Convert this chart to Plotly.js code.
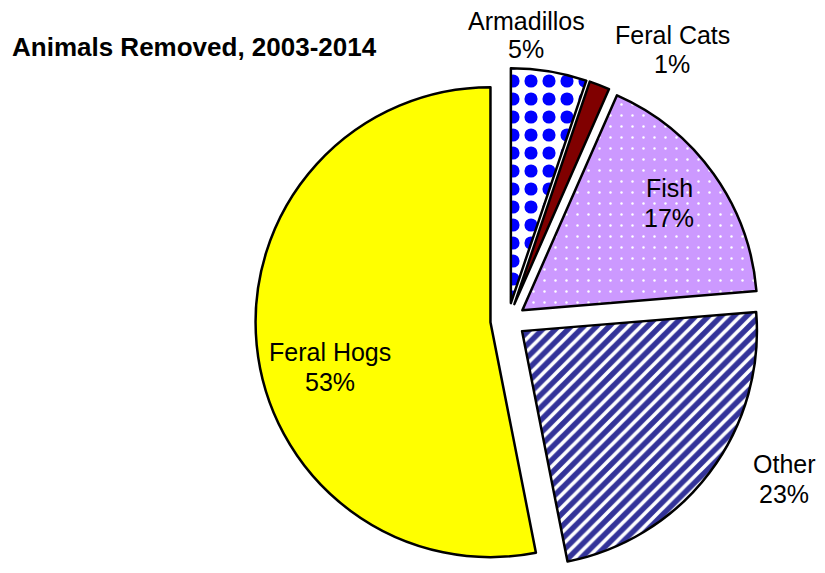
<!DOCTYPE html>
<html>
<head>
<meta charset="utf-8">
<script src="https://cdn.plot.ly/plotly-3.0.1.min.js"></script>
<style>html,body{margin:0;padding:0;background:#fff;}#chart{width:825px;height:573px;}</style>
</head>
<body>
<div id="chart"></div>
<script>
const categories = ["Armadillos", "Feral Cats", "Fish", "Other", "Feral Hogs"];
const values = [5.2, 1.4, 17.1, 23.2, 53.1];
const sliceColors = ["#FFFFFF", "#800000", "#CC99FF", "#333399", "#FFFF00"];
const chartTitle = "Animals Removed, 2003-2014";

// label centres in window pixels: [x, name line y, percent line y]
const labelPx = [[526, 21, 49], [672, 35, 64], [669, 188, 218], [784, 464, 494], [330, 352, 382]];

const M = {l: 254, r: 63, t: 68, b: 0};
const W = 825, H = 573;
const pw = W - M.l - M.r, ph = H - M.t - M.b;

const total = values.reduce((a, b) => a + b, 0);
const labelFont = {family: "Liberation Sans, Arial, sans-serif", size: 25, color: "#000000"};
const annotations = [];
categories.forEach((c, i) => {
  const lines = [c, Math.round(values[i] / total * 100) + "%"];
  lines.forEach((t, k) => {
    annotations.push({
      text: t,
      xref: "paper", yref: "paper",
      x: (labelPx[i][0] - M.l) / pw,
      y: 1 - (labelPx[i][1 + k] - M.t) / ph,
      xanchor: "center", yanchor: "middle",
      showarrow: false,
      font: labelFont
    });
  });
});

const trace = {
  type: "pie",
  labels: categories,
  values: values,
  sort: false,
  direction: "clockwise",
  rotation: 0,
  pull: [0.075, 0.075, 0.075, 0.075, 0.075],
  textinfo: "none",
  automargin: false,
  hoverinfo: "label+percent",
  marker: {
    colors: sliceColors,
    line: {color: "#000000", width: 2.5},
    pattern: {
      shape: [".", "", ".", "/", ""],
      fgcolor: ["#0000FF", "#800000", "#FFFFFF", "#FFFFFF", "#FFFF00"],
      bgcolor: ["#FFFFFF", "#800000", "#CC99FF", "#333399", "#FFFF00"],
      size: [18, 8, 11, 9, 8],
      solidity: [0.42, 0.3, 0.04, 0.4, 0.3],
      fillmode: "replace"
    }
  },
  domain: {x: [0, 1], y: [0, 1]}
};

const layout = {
  width: W,
  height: H,
  margin: M,
  paper_bgcolor: "#FFFFFF",
  showlegend: false,
  annotations: annotations,
  title: {
    text: "<b>" + chartTitle + "</b>",
    x: 12 / W, xref: "container", xanchor: "left",
    y: 1 - 47 / H, yref: "container", yanchor: "middle",
    font: {family: "Liberation Sans, Arial, sans-serif", size: 26, color: "#000000"}
  }
};

Plotly.newPlot("chart", [trace], layout, {displayModeBar: false, staticPlot: true});
</script>
</body>
</html>
